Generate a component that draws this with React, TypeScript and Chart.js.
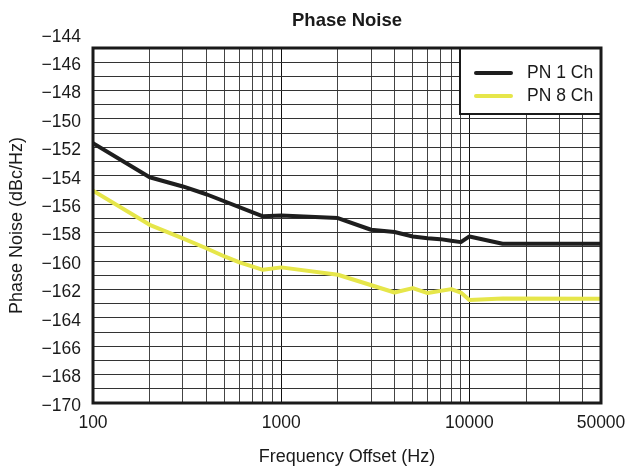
import React, { useEffect, useRef } from "react";
import { Chart, registerables } from "chart.js";

Chart.register(...registerables);

// Offset frequencies (Hz) and measured phase noise (dBc/Hz)
const freqs1Ch = [100, 200, 300, 400, 800, 1000, 2000, 3000, 4000, 5000, 6000, 7000, 8000, 9000, 10000, 15000, 50000];
const pn1Ch = [-151.7, -154.1, -154.75, -155.3, -156.85, -156.8, -156.98, -157.8, -157.96, -158.27, -158.39, -158.46, -158.58, -158.67, -158.27, -158.79, -158.79];

const freqs8Ch = [100, 200, 300, 400, 500, 600, 800, 1000, 2000, 4000, 5000, 6000, 8000, 9000, 10000, 15000, 50000];
const pn8Ch = [-155.05, -157.45, -158.4, -159.1, -159.68, -160.1, -160.62, -160.45, -160.97, -162.22, -161.91, -162.26, -161.98, -162.22, -162.74, -162.64, -162.65];

const seriesNames = ["PN 1 Ch", "PN 8 Ch"];
const seriesColors = ["#1e1e1e", "#e6e64a"];

// Axis ticks
const xGridValues = [
  100, 200, 300, 400, 500, 600, 700, 800, 900,
  1000, 2000, 3000, 4000, 5000, 6000, 7000, 8000, 9000,
  10000, 20000, 30000, 40000, 50000,
];
const xLabelValues = [100, 1000, 10000, 50000];
const xMajorValues = [100, 1000, 10000];
const yMin = -170;
const yMax = -145;
const yLabelTop = -144;

const chartTitle = "Phase Noise";
const xTitle = "Frequency Offset (Hz)";
const yTitle = "Phase Noise (dBc/Hz)";

const FONT = "'Liberation Sans', Arial, Helvetica, sans-serif";
const INK = "#1a1a1a";

const toPoints = (xs: number[], ys: number[]) => xs.map((x, i) => ({ x, y: ys[i] }));

const frameAndLegend = {
  id: "frameAndLegend",
  afterDraw(chart: any) {
    const { ctx, chartArea } = chart;
    const { left, right, top, bottom } = chartArea;
    ctx.save();

    // Title
    ctx.fillStyle = INK;
    ctx.font = `bold 18.5px ${FONT}`;
    ctx.textAlign = "center";
    ctx.textBaseline = "middle";
    ctx.fillText(chartTitle, (left + right) / 2, 21);

    // Legend box in the upper-right corner
    const bw = 141;
    const bh = 66;
    const bx = right - bw;
    const by = top;
    ctx.fillStyle = "#ffffff";
    ctx.fillRect(bx, by, bw, bh);
    ctx.strokeStyle = INK;
    ctx.lineWidth = 2;
    ctx.strokeRect(bx, by, bw, bh);

    // Plot frame
    ctx.lineWidth = 3;
    ctx.strokeRect(left, top, right - left, bottom - top);

    ctx.font = `17.5px ${FONT}`;
    ctx.textAlign = "left";
    ctx.textBaseline = "middle";
    seriesNames.forEach((name, i) => {
      const cy = by + 25 + i * 23;
      ctx.strokeStyle = seriesColors[i];
      ctx.lineWidth = 4;
      ctx.lineCap = "round";
      ctx.beginPath();
      ctx.moveTo(bx + 16, cy);
      ctx.lineTo(bx + 51, cy);
      ctx.stroke();
      ctx.fillStyle = INK;
      ctx.fillText(name, bx + 67, cy);
    });
    ctx.restore();
  },
};

export default function App() {
  const canvasRef = useRef<HTMLCanvasElement | null>(null);

  useEffect(() => {
    if (!canvasRef.current) return;
    const chart = new Chart(canvasRef.current, {
      type: "line",
      data: {
        datasets: [
          {
            label: seriesNames[0],
            data: toPoints(freqs1Ch, pn1Ch),
            borderColor: seriesColors[0],
            borderWidth: 4,
            pointRadius: 0,
            tension: 0,
            borderJoinStyle: "round",
          },
          {
            label: seriesNames[1],
            data: toPoints(freqs8Ch, pn8Ch),
            borderColor: seriesColors[1],
            borderWidth: 4,
            pointRadius: 0,
            tension: 0,
            borderJoinStyle: "round",
          },
        ],
      },
      options: {
        animation: false,
        responsive: true,
        maintainAspectRatio: false,
        layout: { padding: { top: 48, right: 27, left: 0, bottom: 0 } },
        plugins: {
          legend: { display: false },
          title: { display: false },
          tooltip: { enabled: false },
        },
        scales: {
          x: {
            type: "logarithmic",
            min: 100,
            max: 50000,
            afterBuildTicks: (scale: any) => {
              scale.ticks = xGridValues.map((value) => ({ value }));
            },
            afterFit: (scale: any) => {
              scale.height = 66;
              scale.paddingLeft = 0;
              scale.paddingRight = 0;
            },
            ticks: {
              autoSkip: false,
              maxRotation: 0,
              padding: 10,
              color: INK,
              font: { family: FONT, size: 17.5 },
              callback: (value: any) => (xLabelValues.includes(Number(value)) ? String(value) : ""),
            },
            grid: {
              drawTicks: false,
              color: (ctx: any) => (xMajorValues.includes(ctx.tick?.value) ? "#111111" : "#444444"),
              lineWidth: 1,
            },
            border: { display: false },
            title: {
              display: true,
              text: xTitle,
              color: INK,
              font: { family: FONT, size: 18 },
              padding: { top: 0, bottom: 1 },
            },
          },
          y: {
            type: "linear",
            min: yMin,
            max: yMax,
            afterBuildTicks: (scale: any) => {
              const ticks = [];
              for (let v = yMin; v <= yLabelTop; v += 1) ticks.push({ value: v });
              scale.ticks = ticks;
            },
            afterFit: (scale: any) => {
              scale.width = 93;
              scale.paddingTop = 0;
              scale.paddingBottom = 0;
            },
            ticks: {
              autoSkip: false,
              padding: 12,
              labelOffset: 3,
              color: INK,
              font: { family: FONT, size: 17.5 },
              callback: (value: any) => {
                const v = Number(value);
                return v % 2 === 0 ? "\u2212" + Math.abs(v) : "";
              },
            },
            grid: {
              drawTicks: false,
              color: (ctx: any) => (ctx.tick?.value > yMax ? "rgba(0,0,0,0)" : "#333333"),
              lineWidth: 1,
            },
            border: { display: false },
            title: {
              display: true,
              text: yTitle,
              color: INK,
              font: { family: FONT, size: 18 },
              padding: { top: 6, bottom: 0 },
            },
          },
        },
      },
      plugins: [frameAndLegend],
    } as any);
    return () => chart.destroy();
  }, []);

  return (
    <div style={{ position: "absolute", left: 0, top: 0, width: 628, height: 469, background: "#ffffff" }}>
      <canvas ref={canvasRef} />
    </div>
  );
}
